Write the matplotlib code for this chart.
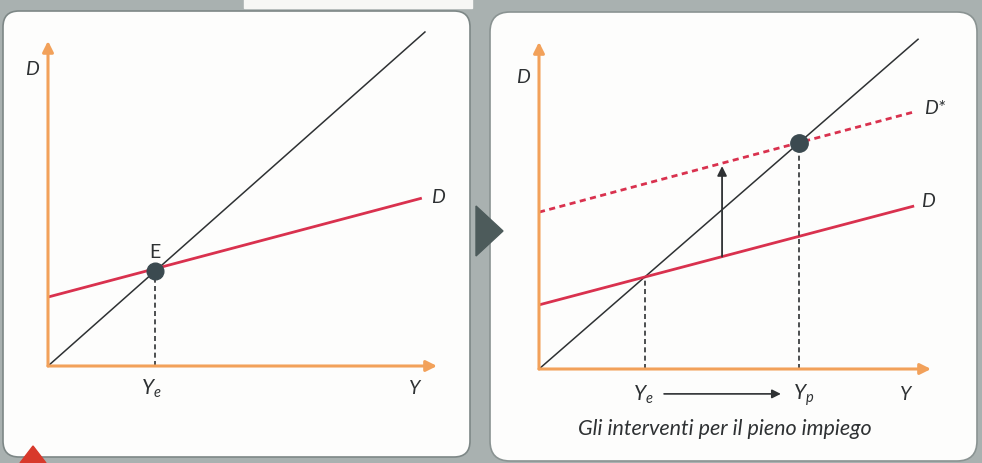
#!/usr/bin/env python3
"""Keynesian cross: equilibrium income and the shift to full employment."""

import matplotlib

matplotlib.use("Agg")
import matplotlib.pyplot as plt
from matplotlib.patches import FancyBboxPatch, Polygon

W, H = 982, 464

plt.rcParams["font.family"] = ["Lato", "DejaVu Sans"]
plt.rcParams["mathtext.fontset"] = "custom"
plt.rcParams["mathtext.it"] = "Lato:italic"
plt.rcParams["mathtext.rm"] = "Lato"

# --- data (income Y on x, demand D on y) ---
# left panel
left_diag_x = [0.0, 9.69]
left_diag_y = [0.0, 9.69]
left_d_x = [0.0, 9.61]
left_d_y = [2.0, 4.87]
left_eq = (2.76, 2.76)          # point E
left_axis_end = (10.0, 9.43)

# right panel
right_diag_x = [0.0, 9.67]
right_diag_y = [0.0, 9.67]
right_d_x = [0.0, 9.57]
right_d_y = [1.88, 4.78]
right_dstar_x = [0.0, 9.57]
right_dstar_y = [4.60, 7.54]
right_ye = (2.70, 2.70)
right_yp = (6.64, 6.64)
shift_x = 4.67
shift_from, shift_to = 3.30, 5.95
right_axis_end = (10.0, 9.59)

ORANGE = "#f2a15a"
RED = "#d9314e"
INK = "#2e3133"
DOT = "#3b4a50"
GRAY = "#a9b1b0"


def panel_axes(fig, box, origin, scale):
    """Axes over a pixel box, calibrated so data (0,0) sits at origin."""
    x0, y0, x1, y1 = box
    ax = fig.add_axes([x0 / W, 1 - y1 / H, (x1 - x0) / W, (y1 - y0) / H])
    ax.set_xlim((x0 - origin[0]) / scale[0], (x1 - origin[0]) / scale[0])
    ax.set_ylim((origin[1] - y1) / scale[1], (origin[1] - y0) / scale[1])
    ax.axis("off")
    ax.patch.set_alpha(0)
    return ax


def draw_axes_arrows(ax, end):
    kw = dict(arrowstyle="-|>", color=ORANGE, lw=2.2, mutation_scale=16,
              shrinkA=0, shrinkB=0)
    ax.annotate("", xy=(end[0], 0), xytext=(0, 0), arrowprops=kw)
    ax.annotate("", xy=(0, end[1]), xytext=(0, 0), arrowprops=kw)


def label(ax, x, y, s, size=14, style="italic", **kw):
    ax.text(x, y, s, fontsize=size, style=style, color=INK, ha="center",
            va="center", **kw)


fig = plt.figure(figsize=(W / 100, H / 100), dpi=100)

# --- page background and boxes ---
bg = fig.add_axes([0, 0, 1, 1])
bg.set_xlim(0, W)
bg.set_ylim(H, 0)
bg.axis("off")
bg.add_patch(plt.Rectangle((0, 0), W, H, color=GRAY, zorder=0))
bg.add_patch(plt.Rectangle((244, 0), 228, 9, color="#f7f7f5", zorder=1))
bg.add_patch(FancyBboxPatch((3, 12), 467, 446, boxstyle="round,pad=0,rounding_size=16",
                            fc="#fdfdfc", ec="#7d8786", lw=1.2, zorder=2))
bg.add_patch(FancyBboxPatch((490, 13), 487, 449, boxstyle="round,pad=0,rounding_size=20",
                            fc="#fdfdfc", ec="#8a9392", lw=1.2, zorder=2))
bg.add_patch(Polygon([(476, 207), (503, 232), (476, 257)], closed=True,
                     color="#4d5b5b", zorder=3))
bg.add_patch(Polygon([(20, 464), (33, 447), (46, 464)], closed=True,
                     color="#d8392b", zorder=3))

# --- left panel ---
axl = panel_axes(fig, (8, 15, 468, 455), (48, 367), (38.9, 34.47))
axl.plot(left_diag_x, left_diag_y, color=INK, lw=1.1)
axl.plot(left_d_x, left_d_y, color=RED, lw=2.0, solid_capstyle="butt")
axl.plot([left_eq[0], left_eq[0]], [0, left_eq[1]], color=INK, lw=1.2,
         ls=(0, (3, 2)))
draw_axes_arrows(axl, left_axis_end)
axl.plot(*left_eq, "o", color=DOT, ms=12, zorder=5)
label(axl, left_eq[0], left_eq[1] + 0.55, "E", size=14, style="normal")
label(axl, -0.41, 8.62, "D")
label(axl, 10.03, 4.93, "D")
label(axl, left_eq[0] - 0.1, -0.62, r"$Y_e$", size=15)
label(axl, 9.43, -0.62, "Y")

# --- right panel ---
axr = panel_axes(fig, (495, 15, 975, 455), (539, 370), (39.2, 34.1))
axr.plot(right_diag_x, right_diag_y, color=INK, lw=1.1)
axr.plot(right_d_x, right_d_y, color=RED, lw=2.0, solid_capstyle="butt")
axr.plot(right_dstar_x, right_dstar_y, color=RED, lw=2.0, ls=(0, (2.2, 1.6)))
for yv in (right_ye, right_yp):
    axr.plot([yv[0], yv[0]], [0, yv[1]], color=INK, lw=1.2, ls=(0, (3, 2)))
axr.annotate("", xy=(shift_x, shift_to), xytext=(shift_x, shift_from),
             arrowprops=dict(arrowstyle="-|>", color=INK, lw=1.3,
                             mutation_scale=14, shrinkA=0, shrinkB=0))
draw_axes_arrows(axr, right_axis_end)
axr.plot(*right_yp, "o", color=DOT, ms=12.5, zorder=5)
axr.annotate("", xy=(6.17, -0.73), xytext=(3.19, -0.73),
             arrowprops=dict(arrowstyle="-|>", color=INK, lw=1.2,
                             mutation_scale=13, shrinkA=0, shrinkB=0))
label(axr, -0.41, 8.59, "D")
label(axr, 9.92, 4.93, "D")
label(axr, 10.1, 7.68, "D*")
label(axr, right_ye[0] - 0.05, -0.73, r"$Y_e$", size=15)
label(axr, right_yp[0] + 0.12, -0.73, r"$Y_p$", size=15)
label(axr, 9.36, -0.73, "Y")
label(axr, 4.75, -1.72, "Gli interventi per il pieno impiego", size=15.5)

fig.savefig("out.png", dpi=100, facecolor=GRAY)
plt.close(fig)
